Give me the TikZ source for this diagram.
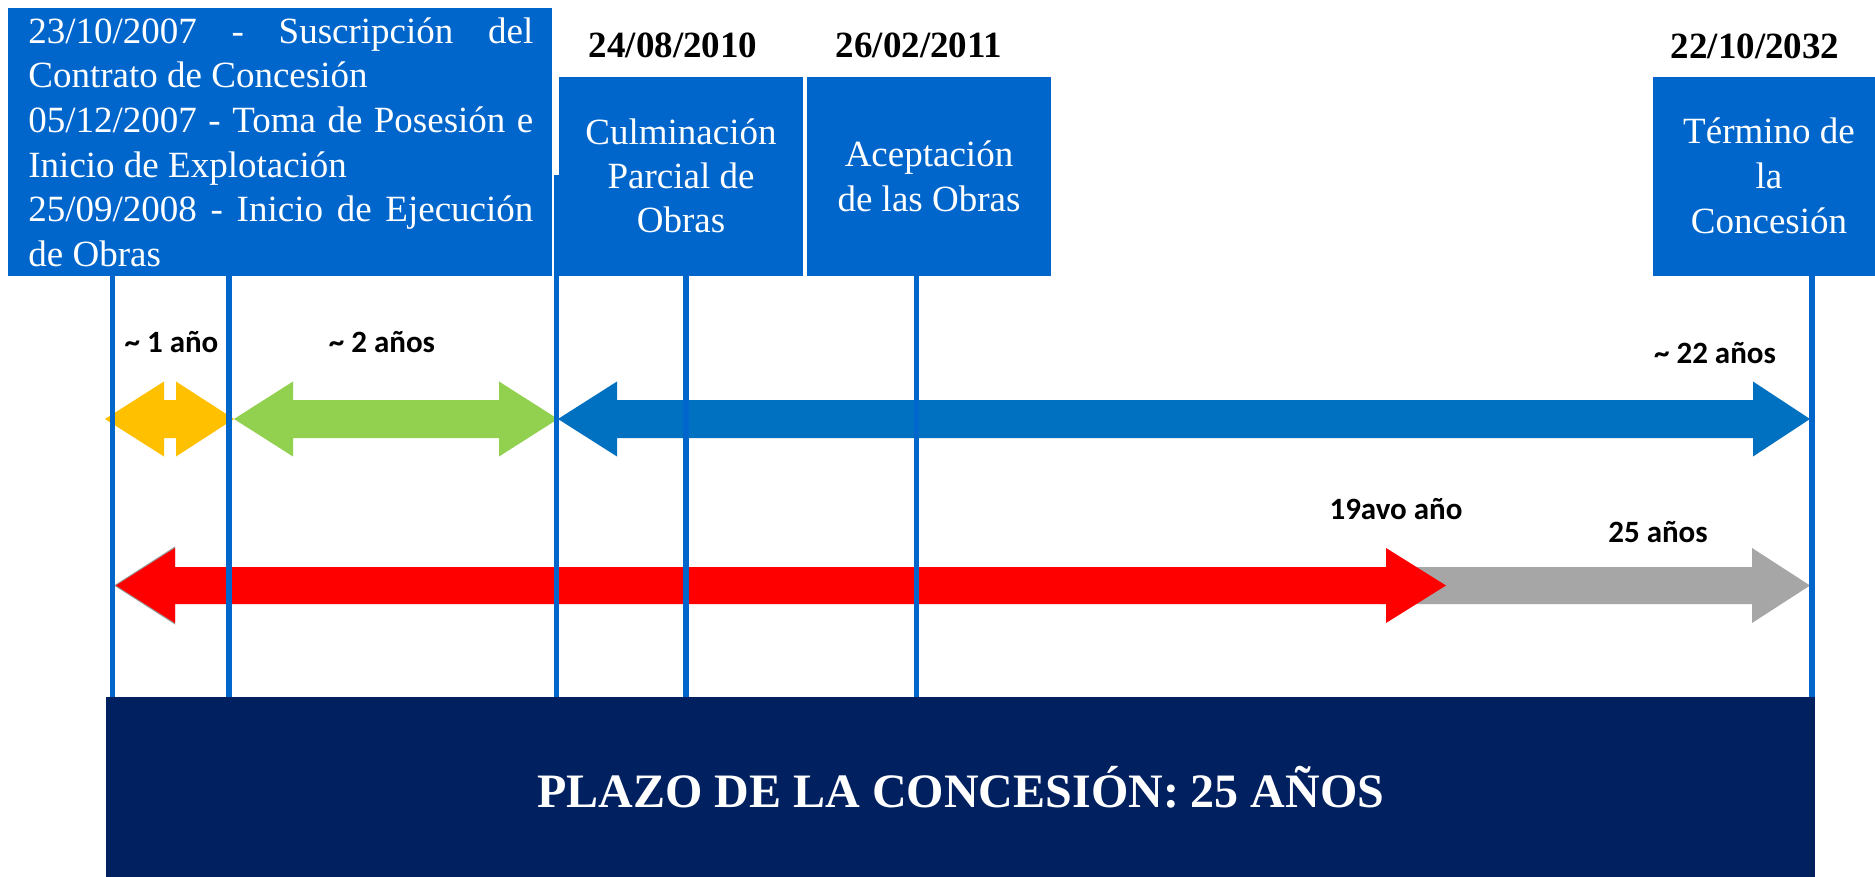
\documentclass[tikz,border=0pt]{standalone}
\usepackage{fontspec}
\setmainfont{Liberation Serif}
\newfontfamily\lblfont{Carlito}
\definecolor{boxblue}{HTML}{0066CC}
\definecolor{navy}{HTML}{002060}
\definecolor{arYellow}{HTML}{FFC000}
\definecolor{arGreen}{HTML}{92D050}
\definecolor{arBlue}{HTML}{0070C0}
\definecolor{arRed}{HTML}{FF0000}
\definecolor{arGray}{HTML}{A6A6A6}
\begin{document}
\begin{tikzpicture}[x=0.5pt,y=-0.5pt,
  bluebox/.style={fill=boxblue, draw=none, inner sep=0, anchor=north west},
  wtxt/.style={inner sep=0, text=white, font=\fontsize{18.5}{22}\selectfont},
  dtxt/.style={inner sep=0, anchor=base, font=\fontsize{18.5}{22}\selectfont\bfseries},
  lbl/.style={inner sep=0, anchor=base, font=\lblfont\bfseries\fontsize{15.5}{18}\selectfont},
  vline/.style={draw=boxblue, line width=2.6pt}]
\useasboundingbox (0,0) rectangle (1875,877);
\fill[white] (0,0) rectangle (1875,877);

% boxes
\node[bluebox, minimum width=272pt, minimum height=134pt] (b1) at (8,8) {};
\node[bluebox, minimum width=122pt, minimum height=99.5pt] (b2) at (559,77) {};
\node[bluebox, minimum width=122pt, minimum height=99.5pt] (b3) at (807,77) {};
\node[bluebox, minimum width=111pt, minimum height=99.5pt] (b4) at (1653,77) {};
\node[fill=navy, draw=none, inner sep=0, anchor=north west, minimum width=854.5pt, minimum height=90pt] (plazo) at (106,697) {};

% box 1 text
\node[wtxt, anchor=base west] (l1) at (28,43.3) {\makebox[252.5pt][s]{23/10/2007 - Suscripción del}};
\node[wtxt, anchor=base west] (l2) at (28,88) {Contrato de Concesión};
\node[wtxt, anchor=base west] (l3) at (28,132.7) {\makebox[252.5pt][s]{05/12/2007 - Toma de Posesión e}};
\node[wtxt, anchor=base west] (l4) at (28,177.3) {Inicio de Explotación};
\node[wtxt, anchor=base west] (l5) at (28,222) {\makebox[252.5pt][s]{25/09/2008 - Inicio de Ejecución}};
\node[wtxt, anchor=base west] (l6) at (28,266.7) {de Obras};

% box 2-4 text
\node[wtxt, anchor=base] (c1) at (681,145) {Culminación};
\node[wtxt, anchor=base] (c2) at (681,189) {Parcial de};
\node[wtxt, anchor=base] (c3) at (681,233) {Obras};
\node[wtxt, anchor=base] (a1) at (929,167) {Aceptación};
\node[wtxt, anchor=base] (a2) at (929,212) {de las Obras};
\node[wtxt, anchor=base] (t1) at (1769,144) {Término de};
\node[wtxt, anchor=base] (t2) at (1769,188.5) {la};
\node[wtxt, anchor=base] (t3) at (1769,233.5) {Concesión};

% dates
\node[dtxt] (d2) at (673,58) {24/08/2010};
\node[dtxt] (d3) at (919,58) {26/02/2011};
\node[dtxt] (d4) at (1755,59) {22/10/2032};

% arrows
\fill[arYellow] (105,419) -- (164,381.5) -- (164,400) -- (176,400) -- (176,381.5) -- (234,419) -- (176,456.5) -- (176,438) -- (164,438) -- (164,456.5) -- cycle;
\fill[arGreen] (234,419) -- (293,381.5) -- (293,400) -- (499,400) -- (499,381.5) -- (558,419) -- (499,456.5) -- (499,438) -- (293,438) -- (293,456.5) -- cycle;
\fill[arBlue] (558,419) -- (617,381.5) -- (617,400) -- (1753,400) -- (1753,381.5) -- (1810,419) -- (1753,456.5) -- (1753,438) -- (617,438) -- (617,456.5) -- cycle;
\fill[arGray] (1380,567) -- (1752,567) -- (1752,548) -- (1810,585.5) -- (1752,623) -- (1752,604) -- (1380,604) -- cycle;
\fill[gray!80] (114,585.5) -- (175,546.5) -- (175,624.5) -- cycle;
\fill[arRed] (116,585.5) -- (175,548) -- (175,567) -- (1386,567) -- (1386,548) -- (1446,585.5) -- (1386,623) -- (1386,604) -- (175,604) -- (175,623) -- cycle;

% vertical lines
\coordinate (v1t) at (112.7,276); \coordinate (v1b) at (112.7,697);
\coordinate (v2t) at (229,276);   \coordinate (v2b) at (229,697);
\coordinate (v3t) at (556.5,175); \coordinate (v3b) at (556.5,697);
\coordinate (v4t) at (686,276);   \coordinate (v4b) at (686,697);
\coordinate (v5t) at (916.5,276); \coordinate (v5b) at (916.5,697);
\coordinate (v6t) at (1812,275);  \coordinate (v6b) at (1812,697);
\draw[vline] (v1t) -- (v1b);
\draw[vline] (v2t) -- (v2b);
\draw[vline] (v3t) -- (v3b);
\draw[vline] (v4t) -- (v4b);
\draw[vline] (v5t) -- (v5b);
\draw[vline] (v6t) -- (v6b);

% labels
\node[lbl] (y1) at (171.5,352) {\textasciitilde{} 1 año};
\node[lbl] (y2) at (382,352) {\textasciitilde{} 2 años};
\node[lbl] (y22) at (1715,364) {\textasciitilde{} 22 años};
\node[lbl] (y19) at (1396,519) {19avo año};
\node[lbl] (y25) at (1658,542) {25 años};

% bottom text
\node[inner sep=0, anchor=base, text=white, font=\fontsize{24}{28}\selectfont\bfseries] (pt) at (961,807) {PLAZO DE LA CONCESIÓN: 25 AÑOS};
\end{tikzpicture}
\end{document}
